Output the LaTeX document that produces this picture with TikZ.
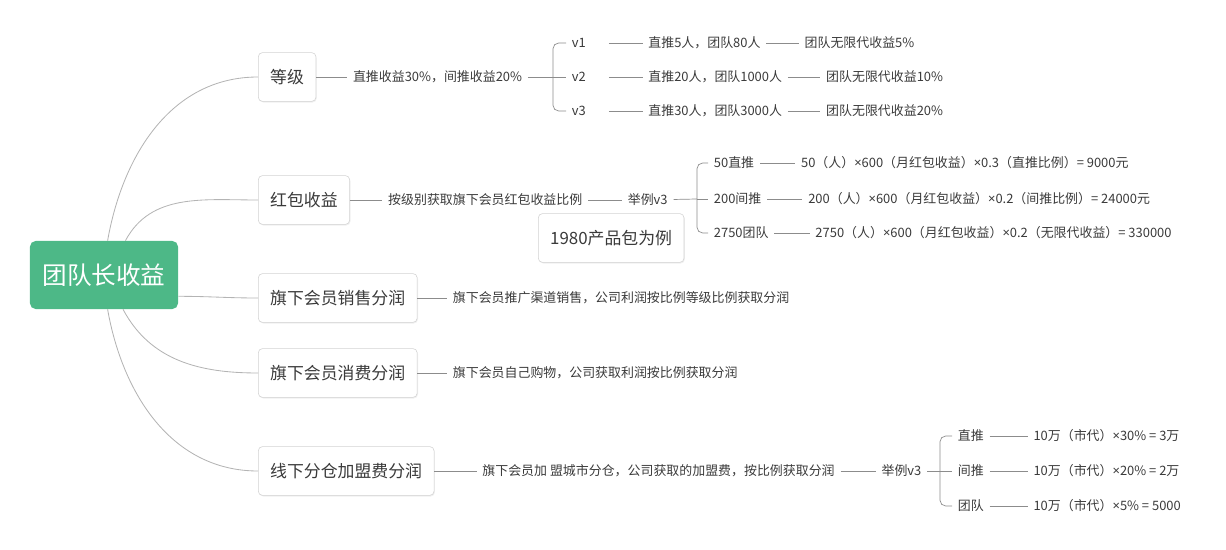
\documentclass[tikz,border=0pt]{standalone}
\usepackage{fontspec}
\setmainfont{Noto Sans CJK SC}
\newfontfamily\latinfont{Noto Sans}
\newcommand\tms{{\latinfont ×}}
\usetikzlibrary{positioning,shadows}

\definecolor{rootgreen}{HTML}{4DB887}
\definecolor{textdark}{HTML}{3A3A3A}
\definecolor{boxline}{HTML}{D2D2D2}
\definecolor{linegray}{HTML}{8C8C8C}
\definecolor{curvegray}{HTML}{B4B4B4}

\begin{document}
\begin{tikzpicture}[
    x=0.025cm, y=-0.025cm,
    % Styles
    root/.style={
        fill=rootgreen, text=white, rounded corners=4pt,
        minimum width=3.7cm, minimum height=1.7cm,
        font=\fontsize{17.5}{20}\selectfont,
    },
    topic/.style={
        draw=boxline, fill=white, rounded corners=3pt,
        minimum height=1.22cm, inner xsep=8.5pt, anchor=west,
        font=\fontsize{12}{14}\selectfont, text=textdark,
        drop shadow={shadow xshift=0.6pt, shadow yshift=-0.8pt, opacity=0.12},
    },
    note/.style={
        font=\fontsize{9.2}{11}\selectfont, text=textdark,
        inner xsep=4pt, inner ysep=2pt,
    },
    link/.style={draw=linegray, line width=0.5pt},
    branch/.style={draw=curvegray, line width=0.6pt},
]
\useasboundingbox (0,0) rectangle (1226,550);

% ================================================================
% ROOT
% ================================================================
\node[root] (root) at (104,275) {团队长收益};

% ================================================================
% BRANCH 1: 等级
% ================================================================
\node[topic] (level) at (258,77) {等级};
\node[note, right=22pt of level] (levelNote) {直推收益30\%，间推收益20\%};
\coordinate (levelFork) at (553,77);

\node[note, anchor=west, text width=22pt] (lv1) at (566,43) {v1};
\node[note, anchor=west, text width=22pt] (lv2) at (566,77) {v2};
\node[note, anchor=west, text width=22pt] (lv3) at (566,111) {v3};

\node[note, right=24pt of lv1] (lv1Req) {直推5人，团队80人};
\node[note, right=23pt of lv1Req] (lv1Pay) {团队无限代收益5\%};
\node[note, right=24pt of lv2] (lv2Req) {直推20人，团队1000人};
\node[note, right=23pt of lv2Req] (lv2Pay) {团队无限代收益10\%};
\node[note, right=24pt of lv3] (lv3Req) {直推30人，团队3000人};
\node[note, right=23pt of lv3Req] (lv3Pay) {团队无限代收益20\%};

% ================================================================
% BRANCH 2: 红包收益
% ================================================================
\node[topic] (redpack) at (258,200) {红包收益};
\node[note, right=23pt of redpack] (redpackNote) {按级别获取旗下会员红包收益比例};
\node[note, right=24pt of redpackNote] (redpackEg) {举例v3};
\coordinate (redpackFork) at (697,199);

\node[note, anchor=west] (rp1) at (708,163) {50直推};
\node[note, anchor=west] (rp2) at (708,199) {200间推};
\node[note, anchor=west] (rp3) at (708,233) {2750团队};

\node[note, right=25pt of rp1] (rp1Calc) {50（人）\tms600（月红包收益）\tms0.3（直推比例）= 9000元};
\node[note, right=25pt of rp2] (rp2Calc) {200（人）\tms600（月红包收益）\tms0.2（间推比例）= 24000元};
\node[note, right=25pt of rp3] (rp3Calc) {2750（人）\tms600（月红包收益）\tms0.2（无限代收益）= 330000};

\node[topic] (example) at (538,238) {1980产品包为例};

% ================================================================
% BRANCH 3 + 4: 销售 / 消费
% ================================================================
\node[topic] (sales) at (258,298) {旗下会员销售分润};
\node[note, right=21pt of sales] (salesNote) {旗下会员推广渠道销售，公司利润按比例等级比例获取分润};

\node[topic] (consume) at (258,373) {旗下会员消费分润};
\node[note, right=21pt of consume] (consumeNote) {旗下会员自己购物，公司获取利润按比例获取分润};

% ================================================================
% BRANCH 5: 线下分仓
% ================================================================
\node[topic] (franchise) at (258,471) {线下分仓加盟费分润};
\node[note, right=30pt of franchise] (franchiseNote) {旗下会员加 盟城市分仓，公司获取的加盟费，按比例获取分润};
\node[note, right=25pt of franchiseNote] (franchiseEg) {举例v3};
\coordinate (franchiseFork) at (940,471);

\node[note, anchor=west] (fc1) at (952,436) {直推};
\node[note, anchor=west] (fc2) at (952,471) {间推};
\node[note, anchor=west] (fc3) at (952,506) {团队};

\node[note, right=27pt of fc1] (fc1Calc) {10万（市代）\tms30\% = 3万};
\node[note, right=27pt of fc2] (fc2Calc) {10万（市代）\tms20\% = 2万};
\node[note, right=27pt of fc3] (fc3Calc) {10万（市代）\tms5\% = 5000};

% ================================================================
% CURVES FROM ROOT
% ================================================================
\draw[branch] (root.84) to[out=80, in=180] (level.west);
\draw[branch] (root.58) to[out=62, in=180] (redpack.west);
\draw[branch] (root.-16) to[out=0, in=180] (sales.west);
\draw[branch] (root.-61) to[out=-62, in=180] (consume.west);
\draw[branch] (root.-84) to[out=-80, in=180] (franchise.west);

% ================================================================
% CONNECTORS
% ================================================================

% 等级
\draw[link] (level) -- (levelNote);
\draw[link] (levelNote) -- (levelFork);
\draw[link, rounded corners=4pt] (lv1.west) -| (levelFork) |- (lv3.west);
\draw[link] (levelFork) -- (lv2.west);
\draw[link] (lv1) -- (lv1Req);
\draw[link] (lv1Req) -- (lv1Pay);
\draw[link] (lv2) -- (lv2Req);
\draw[link] (lv2Req) -- (lv2Pay);
\draw[link] (lv3) -- (lv3Req);
\draw[link] (lv3Req) -- (lv3Pay);

% 红包收益
\draw[link] (redpack) -- (redpackNote);
\draw[link] (redpackNote) -- (redpackEg);
\draw[link] (redpackEg) -- (redpackFork);
\draw[link, rounded corners=4pt] (rp1.west) -| (redpackFork) |- (rp3.west);
\draw[link] (redpackFork) -- (rp2.west);
\draw[link] (rp1) -- (rp1Calc);
\draw[link] (rp2) -- (rp2Calc);
\draw[link] (rp3) -- (rp3Calc);

% 销售 / 消费
\draw[link] (sales) -- (salesNote);
\draw[link] (consume) -- (consumeNote);

% 线下分仓
\draw[link] (franchise) -- (franchiseNote);
\draw[link] (franchiseNote) -- (franchiseEg);
\draw[link] (franchiseEg) -- (franchiseFork);
\draw[link, rounded corners=4pt] (fc1.west) -| (franchiseFork) |- (fc3.west);
\draw[link] (franchiseFork) -- (fc2.west);
\draw[link] (fc1) -- (fc1Calc);
\draw[link] (fc2) -- (fc2Calc);
\draw[link] (fc3) -- (fc3Calc);

\end{tikzpicture}
\end{document}
